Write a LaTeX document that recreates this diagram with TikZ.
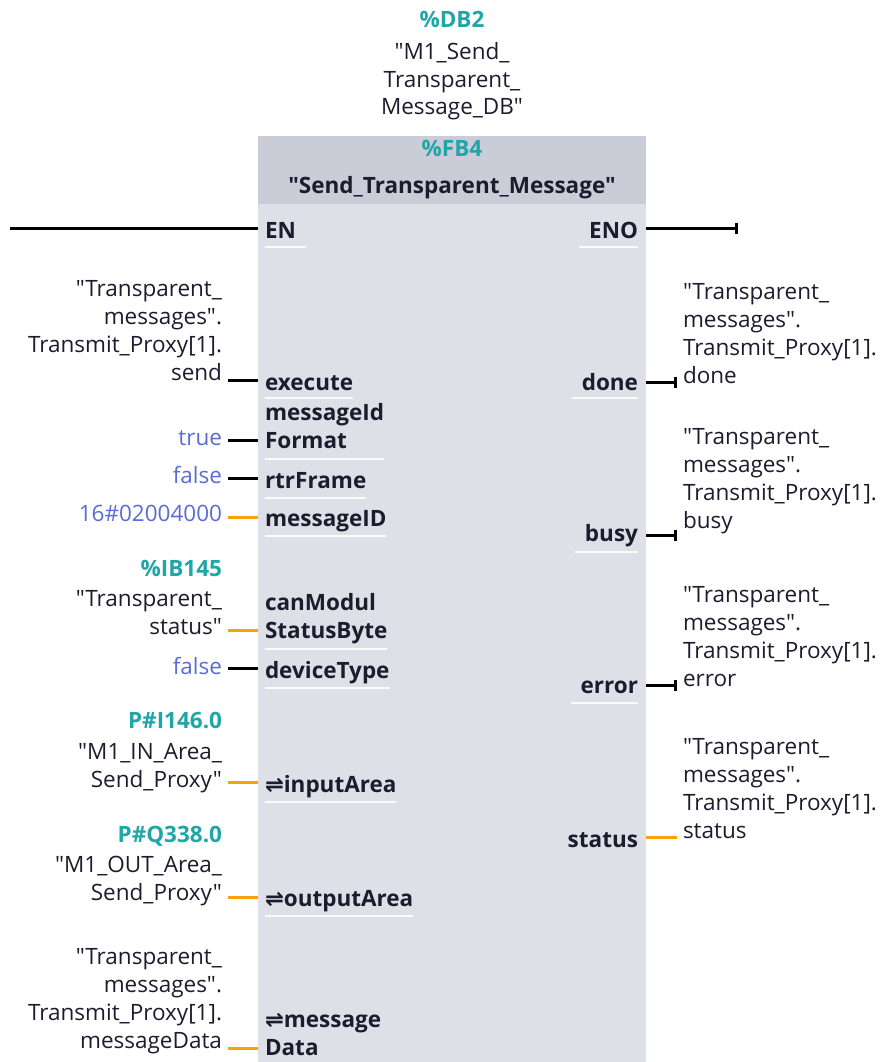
\documentclass[tikz,border=0pt]{standalone}
\usepackage{fontspec}
\setmainfont{Open Sans}[Ligatures=TeXOff]
\newfontfamily\symfont{DejaVu Sans}
\usetikzlibrary{arrows.meta}
\definecolor{tealc}{HTML}{1FA6A6}
\definecolor{constc}{HTML}{5A6CD6}
\definecolor{txtc}{HTML}{1C1C2E}
\definecolor{orangec}{HTML}{F8A30C}
\definecolor{bodyc}{HTML}{DEDFE7}
\definecolor{headc}{HTML}{CACCD8}
\newcommand{\bidir}{{\symfont\char"21CC}}
\begin{document}
\begin{tikzpicture}[x=1pt,y=-1pt,
  every node/.style={inner sep=0pt,outer sep=0pt,text=txtc,font=\fontsize{22.5}{27.7}\selectfont},
  lbl/.style={align=right,anchor=base east},
  rlbl/.style={align=left,anchor=base west},
  addr/.style={anchor=base east,text=tealc,font=\fontsize{22.5}{27.7}\selectfont\bfseries},
  constv/.style={anchor=base east,text=constc},
  pinl/.style={align=left,anchor=base west,font=\fontsize{22.5}{27.7}\selectfont\bfseries},
  pinr/.style={align=right,anchor=base east,font=\fontsize{22.5}{27.7}\selectfont\bfseries},
  wire/.style={line width=3pt,draw=black},
  owire/.style={line width=3pt,draw=orangec},
  bwire/.style={line width=3pt,draw=black,-{Bar[width=11pt,line width=3pt]}},
  uline/.style={line width=1.6pt,draw=white,opacity=0.9}]
\useasboundingbox (0,0) rectangle (882,1062);
% block
\fill[bodyc] (258,136) rectangle (646,1062);
\fill[headc] (258,136) rectangle (646,204);
% header texts
\node[anchor=base,text=tealc,font=\fontsize{22.5}{27.7}\selectfont\bfseries] (db) at (452,28) {\%DB2};
\node[anchor=base,align=center] (dbname) at (452,115) {"M1\_Send\_\\Transparent\_\\Message\_DB"};
\node[anchor=base,text=tealc,font=\fontsize{22.5}{27.7}\selectfont\bfseries] (fb) at (452,157) {\%FB4};
\node[anchor=base,font=\fontsize{22.5}{27.7}\selectfont\bfseries] (fbname) at (452,193) {"Send\_Transparent\_Message"};
% EN / ENO
\node[pinl] (pen) at (265,238) {EN};
\node[pinr] (peno) at (638,238) {ENO};
\coordinate (enin) at (10,228);
\coordinate (enedge) at (258,228);
\coordinate (enoedge) at (646,228);
\coordinate (enoout) at (738,228);
\draw[wire] (enin) -- (enedge);
\draw[bwire] (enoedge) -- (enoout);
\draw[uline] (265,247) -- ([xshift=10pt]pen.east |- 0,247);
\draw[uline] ([xshift=-10pt]peno.west |- 0,247) -- (638,247);
% left pins
\node[pinl] (pexec) at (265,390) {execute};
\node[pinl] (pfmt) at (265,448) {messageId\\Format};
\node[pinl] (prtr) at (265,488) {rtrFrame};
\node[pinl] (pmid) at (265,526) {messageID};
\node[pinl] (pcan) at (265,638) {canModul\\StatusByte};
\node[pinl] (pdev) at (265,678) {deviceType};
\node[pinl] (pin) at (265,792) {\bidir inputArea};
\node[pinl] (pout) at (265,906) {\bidir outputArea};
\node[pinl] (pmsg) at (265,1055) {\bidir message\\Data};
% underlines left pins
\draw[uline] (265,398) -- (pexec.east |- 0,398);
\draw[uline] (265,459) -- (pfmt.east |- 0,459);
\draw[uline] (265,498) -- (prtr.east |- 0,498);
\draw[uline] (265,536) -- (pmid.east |- 0,536);
\draw[uline] (265,649) -- (pcan.east |- 0,649);
\draw[uline] (265,688) -- (pdev.east |- 0,688);
\draw[uline] (265,802) -- (pin.east |- 0,802);
\draw[uline] (265,916) -- (pout.east |- 0,916);
% left labels
\node[lbl] (lsend) at (222,380) {"Transparent\_\\messages".\\Transmit\_Proxy[1].\\send};
\node[constv] (ltrue) at (222,445) {true};
\node[constv] (lfalse1) at (222,483) {false};
\node[constv] (lhex) at (222,521) {16\#02004000};
\node[addr] (aib) at (222,576) {\%IB145};
\node[lbl] (lstat) at (222,634) {"Transparent\_\\status"};
\node[constv] (lfalse2) at (222,674) {false};
\node[addr] (api) at (222,728) {P\#I146.0};
\node[lbl] (lin) at (222,787) {"M1\_IN\_Area\_\\Send\_Proxy"};
\node[addr] (apq) at (222,842) {P\#Q338.0};
\node[lbl] (lout) at (222,900) {"M1\_OUT\_Area\_\\Send\_Proxy"};
\node[lbl] (lmsg) at (222,1048) {"Transparent\_\\messages".\\Transmit\_Proxy[1].\\messageData};
% left edge coordinates
\coordinate (eexec) at (258,380);
\coordinate (efmt) at (258,440);
\coordinate (ertr) at (258,478);
\coordinate (emid) at (258,517);
\coordinate (ecan) at (258,630);
\coordinate (edev) at (258,668);
\coordinate (ein) at (258,782);
\coordinate (eout) at (258,897);
\coordinate (emsg) at (258,1048);
% left wires
\draw[wire] ([xshift=6pt]eexec -| lsend.east) -- (eexec);
\draw[wire] ([xshift=6pt]efmt -| ltrue.east) -- (efmt);
\draw[wire] ([xshift=6pt]ertr -| lfalse1.east) -- (ertr);
\draw[owire] ([xshift=6pt]emid -| lhex.east) -- (emid);
\draw[owire] ([xshift=6pt]ecan -| lstat.east) -- (ecan);
\draw[wire] ([xshift=6pt]edev -| lfalse2.east) -- (edev);
\draw[owire] ([xshift=6pt]ein -| lin.east) -- (ein);
\draw[owire] ([xshift=6pt]eout -| lout.east) -- (eout);
\draw[owire] ([xshift=6pt]emsg -| lmsg.east) -- (emsg);
% right pins
\node[pinr] (pdone) at (638,390) {done};
\node[pinr] (pbusy) at (638,541) {busy};
\node[pinr] (perr) at (638,693) {error};
\node[pinr] (pstat) at (638,847) {status};
\draw[uline] ([xshift=-10pt]pdone.west |- 0,398) -- (638,398);
\draw[uline] ([xshift=-10pt]pbusy.west |- 0,552) -- (638,552);
\draw[uline] ([xshift=-10pt]perr.west |- 0,703) -- (638,703);
% right labels
\node[rlbl] (rdone) at (683,383) {"Transparent\_\\messages".\\Transmit\_Proxy[1].\\done};
\node[rlbl] (rbusy) at (683,528) {"Transparent\_\\messages".\\Transmit\_Proxy[1].\\busy};
\node[rlbl] (rerr) at (683,686) {"Transparent\_\\messages".\\Transmit\_Proxy[1].\\error};
\node[rlbl] (rstat) at (683,838) {"Transparent\_\\messages".\\Transmit\_Proxy[1].\\status};
% right edge coordinates and wires
\coordinate (edone) at (646,382);
\coordinate (ebusy) at (646,535);
\coordinate (eerr) at (646,685);
\coordinate (estat) at (646,837);
\draw[bwire] (edone) -- ([xshift=-6pt]edone -| rdone.west);
\draw[bwire] (ebusy) -- ([xshift=-6pt]ebusy -| rbusy.west);
\draw[bwire] (eerr) -- ([xshift=-6pt]eerr -| rerr.west);
\draw[owire] (estat) -- ([xshift=-6pt]estat -| rstat.west);
\end{tikzpicture}
\end{document}
